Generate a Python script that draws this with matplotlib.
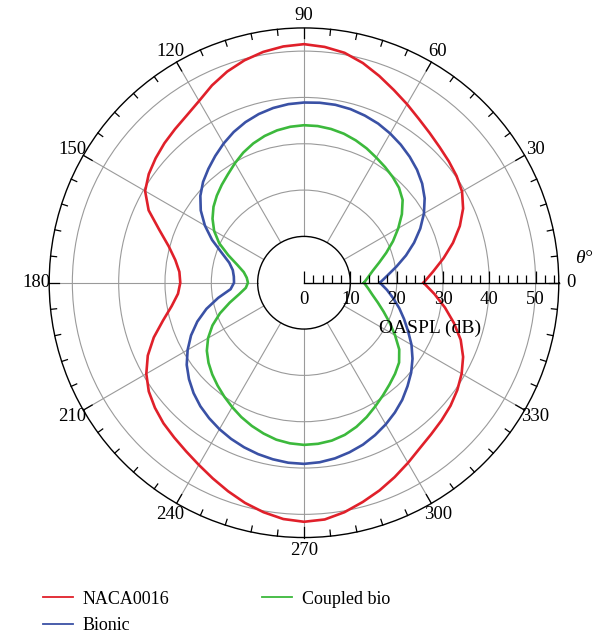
import numpy as np
import matplotlib
matplotlib.use("Agg")
import matplotlib.pyplot as plt
from matplotlib.patches import Circle

plt.rcParams['font.family'] = ['Liberation Serif', 'DejaVu Serif']

# OASPL directivity, every 5 degrees (dB)
angle_deg = list(range(0, 361, 5))

naca_db = [25.8, 28.0, 30.6, 33.3, 35.8, 37.9, 39.4, 40.2, 40.8, 41.4, 42.2, 43.2, 44.5, 45.9, 47.5, 49.1, 50.4, 51.1, 51.5,
           51.2, 50.6, 49.7, 48.5, 47.0, 45.3, 44.1, 43.3, 42.6, 41.8, 40.9, 39.6, 37.0, 33.2, 30.2, 28.2, 27.0, 26.7,
           27.3, 29.0, 31.5, 34.5, 37.2, 39.3, 40.9, 42.0, 42.9, 43.6, 44.4, 45.4, 46.6, 47.9, 49.2, 50.3, 51.2, 51.6,
           51.3, 50.3, 49.0, 47.7, 46.3, 44.9, 43.6, 42.7, 42.0, 41.3, 40.4, 39.3, 37.9, 36.0, 33.5, 30.9, 28.3, 25.8]

bionic_db = [16.4, 18.1, 20.3, 22.8, 25.3, 27.7, 29.9, 31.8, 33.3, 34.5, 35.5, 36.4, 37.2, 37.9, 38.4, 38.8, 39.0, 39.0, 38.9,
             38.7, 38.3, 37.7, 36.9, 35.9, 34.7, 33.4, 32.1, 30.8, 29.2, 27.2, 24.7, 21.9, 18.9, 16.7, 15.6, 15.2, 15.1,
             15.9, 18.8, 21.8, 24.5, 26.9, 29.0, 30.9, 32.4, 33.7, 34.8, 35.7, 36.5, 37.2, 37.8, 38.3, 38.7, 39.0, 39.1,
             38.9, 38.5, 37.9, 37.2, 36.3, 35.3, 34.2, 33.0, 31.6, 30.2, 28.6, 26.8, 24.8, 23.0, 21.3, 19.6, 18.0, 16.4]

coupled_db = [12.95, 13.9, 15.1, 16.8, 18.9, 21.2, 23.5, 25.8, 27.8, 29.0, 29.8, 30.5, 31.2, 32.0, 32.7, 33.3, 33.7, 33.95, 34.0,
              33.8, 33.4, 32.8, 32.0, 31.0, 29.8, 28.6, 27.6, 26.6, 25.5, 24.1, 22.4, 20.2, 17.4, 14.9, 13.2, 12.4, 12.1,
              12.6, 14.2, 16.6, 19.3, 21.8, 23.9, 25.6, 26.9, 28.0, 29.0, 30.0, 31.0, 32.0, 32.9, 33.7, 34.4, 34.8, 35.0,
              34.9, 34.6, 34.0, 33.1, 32.0, 30.8, 29.7, 28.7, 27.8, 26.8, 25.1, 22.7, 20.4, 18.3, 16.5, 15.0, 13.9, 12.95]

theta_ticks = list(range(0, 360, 30))
r_ticks = [10, 20, 30, 40, 50]
r_max = 55

gray = '#9a9a9a'

fig = plt.figure(figsize=(6.02, 6.35), dpi=100)
rect = [0.0817, 0.1535, 0.8465, 0.8025]

ax = fig.add_axes(rect, projection='polar')
ax.set_ylim(0, r_max)

theta = np.deg2rad(angle_deg)
ax.plot(theta, naca_db, color='#e0202a', lw=1.9, label='NACA0016', zorder=4)
ax.plot(theta, bionic_db, color='#3a51a5', lw=1.9, label='Bionic', zorder=4)
ax.plot(theta, coupled_db, color='#3cb93c', lw=1.9, label='Coupled bio', zorder=4)

# radial spokes, starting from the inner circle
for t in theta_ticks[1:]:
    ax.plot([np.deg2rad(t)] * 2, [r_ticks[0], r_max], color=gray, lw=0.8, zorder=1)

# angular ticks on the rim (pointing inwards)
for t in range(0, 360, 6):
    ln = 2.2 if t % 30 == 0 else 1.3
    ax.plot([np.deg2rad(t)] * 2, [r_max - ln, r_max], color='black', lw=0.9,
            zorder=3, clip_on=False)

ax.set_yticks(r_ticks[1:])
ax.set_yticklabels([])
ax.yaxis.grid(True, color=gray, lw=0.8)
ax.xaxis.grid(False)

ax.set_xticks(np.deg2rad(theta_ticks))
ax.set_xticklabels([str(t) for t in theta_ticks], fontsize=13.5)
ax.tick_params(axis='x', which='major', length=0, pad=2)
ax.spines['polar'].set_linewidth(1.0)

# cartesian overlay for the radial scale
ax2 = fig.add_axes(rect)
ax2.set_xlim(-r_max, r_max)
ax2.set_ylim(-r_max, r_max)
ax2.patch.set_visible(False)
for s in ['top', 'left', 'right']:
    ax2.spines[s].set_visible(False)
ax2.spines['bottom'].set_position(('data', 0))
ax2.spines['bottom'].set_bounds(0, r_max)
ax2.spines['bottom'].set_linewidth(1.0)
ax2.set_yticks([])
ax2.set_xticks([0] + r_ticks)
ax2.set_xticklabels([str(v) for v in [0] + r_ticks], fontsize=13.5)
ax2.set_xticks(np.arange(0, r_max, 2), minor=True)
ax2.tick_params(axis='x', which='major', direction='in', length=9, width=0.9, pad=6)
ax2.tick_params(axis='x', which='minor', direction='in', length=5.5, width=0.9)
ax2.add_patch(Circle((0, 0), r_ticks[0], fill=False, ec='black', lw=1.0))
ax2.text(27.3, -9.85, 'OASPL (dB)', fontsize=14, ha='center', va='center')
ax2.text(60.3, 5.3, 'θ°', fontsize=14, style='italic', ha='center', va='center')

h, l = ax.get_legend_handles_labels()
leg = fig.legend(h, l, ncol=2, loc='upper left', bbox_to_anchor=(0.0714, 0.070),
                 frameon=False, fontsize=13, handlelength=1.66, handletextpad=0.55,
                 columnspacing=5.1, labelspacing=0.55, borderpad=0, borderaxespad=0)
for ln in leg.get_lines():
    ln.set_linewidth(1.3)

fig.savefig('out.png', dpi=100)
